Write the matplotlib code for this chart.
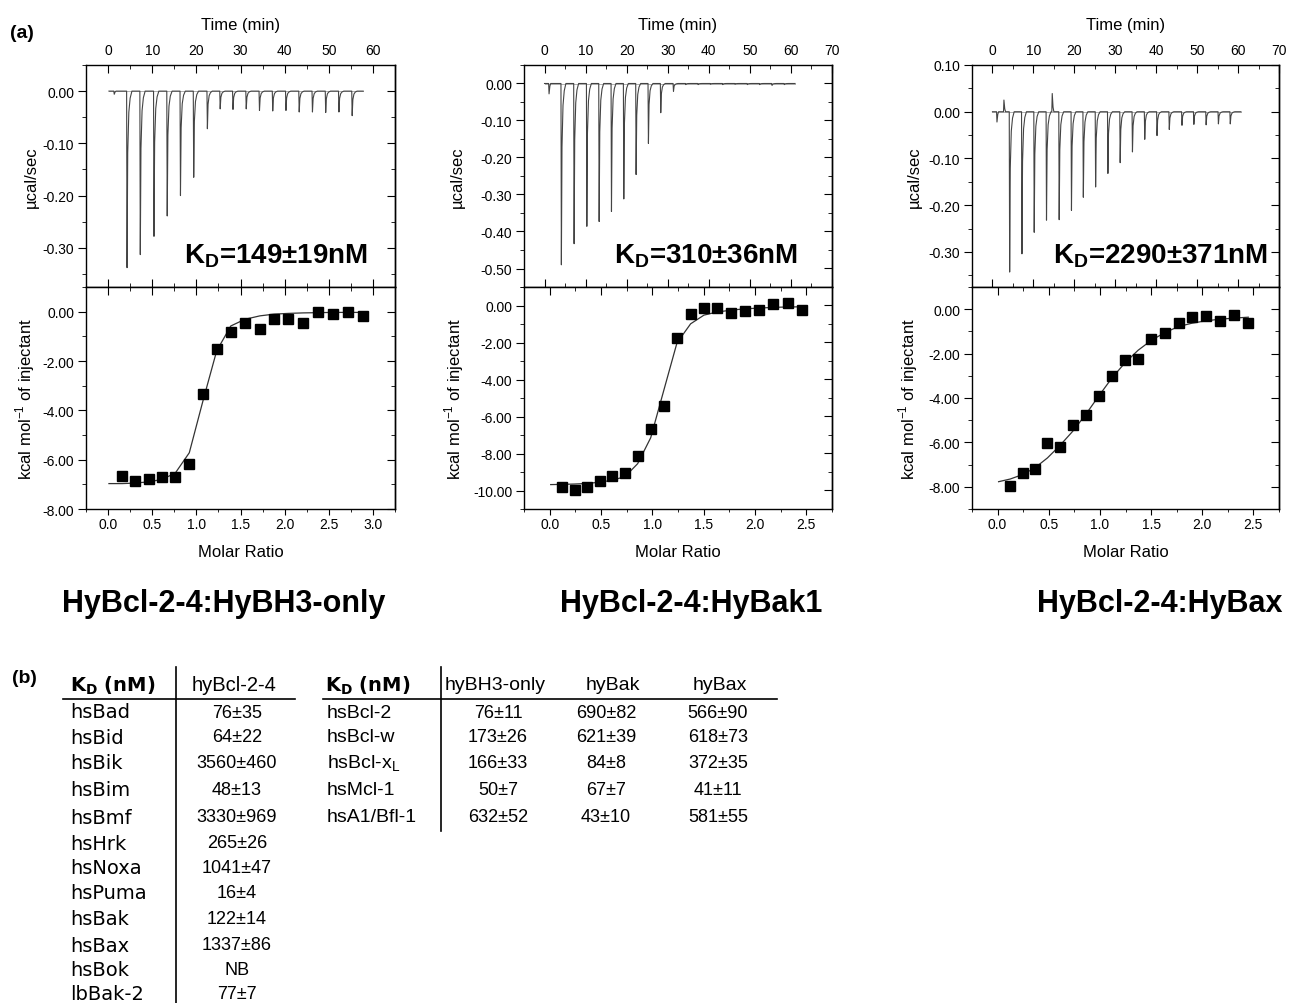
import matplotlib
matplotlib.use('Agg')
import matplotlib.pyplot as plt
from matplotlib.ticker import MultipleLocator, FormatStrFormatter
from matplotlib.lines import Line2D

plt.rcParams['font.family'] = ['Liberation Sans', 'DejaVu Sans']
plt.rcParams['mathtext.fontset'] = 'custom'
plt.rcParams['mathtext.rm'] = 'Liberation Sans'
plt.rcParams['mathtext.bf'] = 'Liberation Sans:bold'
plt.rcParams['mathtext.sf'] = 'DejaVu Sans:bold'
plt.rcParams['axes.unicode_minus'] = False

# ---------------- (a) raw thermograms: injection times (min) and peak heights (ucal/sec)
inj_time_1 = [4.2, 7.2, 10.3, 13.3, 16.3, 19.3, 22.4, 25.3, 28.2, 31.2, 34.2, 37.2,
              40.2, 43.2, 46.2, 49.2, 52.2, 55.2]
inj_peak_1 = [-0.338, -0.313, -0.278, -0.239, -0.200, -0.165, -0.072, -0.034, -0.035,
              -0.034, -0.037, -0.038, -0.037, -0.040, -0.040, -0.041, -0.040, -0.047]
blips_1 = [(1.3, -0.006)]
span_1 = (0.2, 57.8)

inj_time_2 = [4.0, 7.1, 10.2, 13.2, 16.2, 19.2, 22.2, 25.2, 28.2, 31.3, 34.3, 37.3,
              40.3, 43.3, 46.3, 49.3, 52.3, 55.3, 58.3]
inj_peak_2 = [-0.490, -0.433, -0.386, -0.373, -0.346, -0.312, -0.246, -0.162, -0.079,
              -0.021, -0.003, -0.003, -0.002, -0.003, -0.002, -0.003, -0.003, -0.005, -0.003]
blips_2 = [(1.0, -0.028)]
span_2 = (0.0, 61.0)

inj_time_3 = [4.1, 7.1, 10.1, 13.1, 16.2, 19.2, 22.1, 25.1, 28.1, 31.1, 34.1, 37.1,
              40.1, 43.1, 46.2, 49.1, 52.1, 55.1, 58.0]
inj_peak_3 = [-0.343, -0.304, -0.258, -0.232, -0.231, -0.211, -0.183, -0.161, -0.132,
              -0.109, -0.086, -0.059, -0.051, -0.038, -0.029, -0.027, -0.028, -0.026, -0.026]
blips_3 = [(1.0, -0.022), (2.7, 0.025), (14.5, 0.039)]
span_3 = (0.0, 60.7)

# ---------------- (a) integrated heats (kcal/mol of injectant) vs molar ratio
ratio_1 = [0.16, 0.30, 0.46, 0.61, 0.76, 0.92, 1.07, 1.23, 1.39, 1.55, 1.72, 1.88,
           2.04, 2.21, 2.38, 2.55, 2.72, 2.89]
heat_1 = [-6.68, -6.86, -6.77, -6.69, -6.69, -6.19, -3.32, -1.51, -0.81, -0.45, -0.72,
          -0.31, -0.28, -0.45, -0.03, -0.11, -0.01, -0.19]
fit_x_1 = [0.01, 0.16, 0.30, 0.46, 0.61, 0.76, 0.92, 1.07, 1.23, 1.39, 1.55, 1.72,
           1.88, 2.04, 2.21, 2.38, 2.55, 2.72, 2.89]
fit_y_1 = [-6.97, -6.97, -6.95, -6.90, -6.80, -6.55, -5.72, -3.68, -1.59, -0.58, -0.31,
           -0.17, -0.10, -0.07, -0.05, -0.04, -0.03, -0.03, -0.03]

ratio_2 = [0.123, 0.244, 0.364, 0.487, 0.607, 0.734, 0.857, 0.984, 1.114, 1.240, 1.373,
           1.503, 1.633, 1.77, 1.90, 2.04, 2.18, 2.32, 2.455]
heat_2 = [-9.80, -9.95, -9.80, -9.50, -9.21, -9.03, -8.16, -6.65, -5.41, -1.77, -0.47,
          -0.16, -0.14, -0.40, -0.31, -0.27, 0.07, 0.13, -0.27]
fit_x_2 = [0.01, 0.123, 0.244, 0.364, 0.487, 0.607, 0.734, 0.857, 0.984, 1.114, 1.240,
           1.373, 1.503, 1.633, 1.77, 1.90, 2.04, 2.18, 2.32, 2.455]
fit_y_2 = [-9.68, -9.67, -9.65, -9.62, -9.55, -9.45, -9.25, -8.55, -7.15, -4.54, -2.02,
           -0.99, -0.52, -0.35, -0.25, -0.18, -0.14, -0.10, -0.08, -0.07]

ratio_3 = [0.123, 0.244, 0.364, 0.487, 0.607, 0.734, 0.86, 0.987, 1.114, 1.244, 1.373,
           1.503, 1.636, 1.77, 1.90, 2.04, 2.175, 2.315, 2.45]
heat_3 = [-7.97, -7.36, -7.18, -6.01, -6.20, -5.20, -4.77, -3.90, -3.00, -2.27, -2.24,
          -1.33, -1.07, -0.62, -0.35, -0.30, -0.53, -0.24, -0.60]
fit_x_3 = [0.01, 0.123, 0.244, 0.364, 0.487, 0.607, 0.734, 0.86, 0.987, 1.114, 1.244,
           1.373, 1.503, 1.636, 1.77, 1.90, 2.04, 2.175, 2.315, 2.45]
fit_y_3 = [-7.77, -7.65, -7.45, -7.15, -6.70, -6.15, -5.50, -4.75, -3.92, -3.12, -2.42,
           -1.85, -1.40, -1.05, -0.78, -0.63, -0.52, -0.45, -0.40, -0.36]

kd_labels = ['149\u00b119nM', '310\u00b136nM', '2290\u00b1371nM']
titles = ['HyBcl-2-4:HyBH3-only', 'HyBcl-2-4:HyBak1', 'HyBcl-2-4:HyBax']

# ---------------- (b) tables
t1_rows = ['hsBad', 'hsBid', 'hsBik', 'hsBim', 'hsBmf', 'hsHrk', 'hsNoxa', 'hsPuma',
           'hsBak', 'hsBax', 'hsBok', 'lbBak-2']
t1_vals = ['76\u00b135', '64\u00b122', '3560\u00b1460', '48\u00b113', '3330\u00b1969',
           '265\u00b126', '1041\u00b147', '16\u00b14', '122\u00b114', '1337\u00b186', 'NB', '77\u00b17']

t2_cols = ['hyBH3-only', 'hyBak', 'hyBax']
t2_rows = ['hsBcl-2', 'hsBcl-w', 'hsBcl-x$_\\mathrm{L}$', 'hsMcl-1', 'hsA1/Bfl-1']
t2_bh3 = ['76\u00b111', '173\u00b126', '166\u00b133', '50\u00b17', '632\u00b152']
t2_bak = ['690\u00b182', '621\u00b139', '84\u00b18', '67\u00b17', '43\u00b110']
t2_bax = ['566\u00b190', '618\u00b173', '372\u00b135', '41\u00b111', '581\u00b155']

W, H = 1293, 1004
fig = plt.figure(figsize=(W / 100, H / 100), dpi=100)


def fx(x):
    return x / W


def fy(y):
    return 1 - y / H


# spike shape used to draw each injection peak
spike_dt = [0.0, 0.1, 0.25, 0.5, 0.8, 1.2]
spike_f = [0.0, 1.0, 0.35, 0.12, 0.04, 0.0]
blip_dt = [0.0, 0.1, 0.3, 0.5]
blip_f = [0.0, 1.0, 0.25, 0.0]


def build_trace(times, peaks, blips, span):
    events = [(t, h, spike_dt, spike_f) for t, h in zip(times, peaks)]
    events += [(t, h, blip_dt, blip_f) for t, h in blips]
    events.sort(key=lambda e: e[0])
    xs, ys = [span[0]], [0.0]
    for t, h, dts, fs in events:
        for d, f in zip(dts, fs):
            xs.append(t + d)
            ys.append(h * f)
    xs.append(span[1])
    ys.append(0.0)
    return xs, ys


def style_ticks(ax):
    ax.tick_params(axis='both', which='major', labelsize=10)
    ax.tick_params(axis='y', which='major', direction='out', length=6, pad=2.5)
    ax.tick_params(axis='y', which='minor', direction='out', length=3)
    sec = ax.secondary_yaxis('right')
    sec.yaxis.set_major_locator(ax.yaxis.get_major_locator())
    sec.yaxis.set_minor_locator(ax.yaxis.get_minor_locator())
    sec.tick_params(axis='y', which='major', direction='in', length=6, labelright=False)
    sec.tick_params(axis='y', which='minor', direction='in', length=3)
    for s in ax.spines.values():
        s.set_linewidth(1.0)
    sec.spines['right'].set_linewidth(1.0)


lefts = [86, 524, 972]
rights = [395, 832, 1279]
top_ys = [(-0.375, 0.05), (-0.55, 0.05), (-0.375, 0.10)]
bot_ys = [(-8, 1), (-11, 1), (-9, 1)]
bot_xs = [(-0.25, 3.25), (-0.25, 2.75), (-0.25, 2.75)]
top_xs = [(-5, 65), (-5, 70), (-5, 70)]
ylab_top = [-0.152, -0.192, -0.163]
ylab_bot = [-0.160, -0.188, -0.169]
kd_pos = [(0.913, 0.113), (0.89, 0.113), (0.964, 0.113)]
title_x = [224, 691, 1160]

raw = [(inj_time_1, inj_peak_1, blips_1, span_1),
       (inj_time_2, inj_peak_2, blips_2, span_2),
       (inj_time_3, inj_peak_3, blips_3, span_3)]
iso = [(ratio_1, heat_1, fit_x_1, fit_y_1),
       (ratio_2, heat_2, fit_x_2, fit_y_2),
       (ratio_3, heat_3, fit_x_3, fit_y_3)]

for i in range(3):
    l, r = lefts[i], rights[i]
    axt = fig.add_axes([fx(l), fy(288), (r - l) / W, 222 / H])
    axb = fig.add_axes([fx(l), fy(510), (r - l) / W, 222 / H])

    # raw heat trace
    tx, ty = build_trace(*raw[i])
    span = raw[i][3]
    axt.plot([span[0], span[1]], [0, 0], color='#b0b0b0', lw=0.7)
    axt.plot(tx, ty, color='#444444', lw=0.8)
    axt.set_xlim(*top_xs[i])
    axt.set_ylim(*top_ys[i])
    axt.xaxis.set_major_locator(MultipleLocator(10))
    axt.xaxis.set_minor_locator(MultipleLocator(5))
    axt.yaxis.set_major_locator(MultipleLocator(0.1))
    axt.yaxis.set_minor_locator(MultipleLocator(0.05))
    axt.yaxis.set_major_formatter(FormatStrFormatter('%.2f'))
    style_ticks(axt)
    axt.tick_params(axis='x', which='both', direction='in', top=True, bottom=True,
                    labeltop=True, labelbottom=False)
    axt.tick_params(axis='x', which='major', length=6, pad=6)
    axt.tick_params(axis='x', which='minor', length=3)
    axt.xaxis.set_label_position('top')
    axt.set_xlabel('Time (min)', fontsize=12, labelpad=10)
    axt.set_ylabel('\u00b5cal/sec', fontsize=12)
    axt.yaxis.set_label_coords(ylab_top[i], 0.5)
    axt.text(kd_pos[i][0], kd_pos[i][1], '$\\mathbf{K}_{\\mathbf{D}}$=' + kd_labels[i],
             transform=axt.transAxes, ha='right', va='baseline', fontsize=20,
             fontweight='bold')

    # integrated heats + fit
    x, y, fxs, fys = iso[i]
    axb.plot(fxs, fys, color='#333333', lw=0.9)
    axb.plot(x, y, 's', color='black', ms=6.5)
    axb.set_xlim(*bot_xs[i])
    axb.set_ylim(*bot_ys[i])
    axb.xaxis.set_major_locator(MultipleLocator(0.5))
    axb.xaxis.set_minor_locator(MultipleLocator(0.25))
    axb.xaxis.set_major_formatter(FormatStrFormatter('%.1f'))
    axb.yaxis.set_major_locator(MultipleLocator(2))
    axb.yaxis.set_minor_locator(MultipleLocator(1))
    axb.yaxis.set_major_formatter(FormatStrFormatter('%.2f'))
    style_ticks(axb)
    axb.tick_params(axis='x', which='major', direction='out', length=4, pad=2)
    axb.tick_params(axis='x', which='minor', direction='out', length=2.5)
    secx = axb.secondary_xaxis('top')
    secx.xaxis.set_major_locator(MultipleLocator(0.5))
    secx.xaxis.set_minor_locator(MultipleLocator(0.25))
    secx.tick_params(axis='x', which='major', direction='in', length=6, labeltop=False)
    secx.tick_params(axis='x', which='minor', direction='in', length=3)
    axb.set_xlabel('Molar Ratio', fontsize=12, labelpad=9)
    axb.set_ylabel('kcal mol$^{\\mathrm{-1}}$ of injectant', fontsize=12)
    axb.yaxis.set_label_coords(ylab_bot[i], 0.5)

    fig.text(fx(title_x[i]), fy(612), titles[i], ha='center', va='baseline',
             fontsize=22, fontweight='bold')

fig.text(fx(10), fy(34), '(a)', ha='left', va='center', fontsize=14, fontweight='bold')
fig.text(fx(12), fy(679), '(b)', ha='left', va='center', fontsize=14, fontweight='bold')

# ---------------- table 1
hdr_y = 686
fig.text(fx(70), fy(hdr_y), '$\\mathsf{K}_{\\mathsf{D}}$ (nM)', ha='left', va='center',
         fontsize=14, fontweight='bold', family='DejaVu Sans')
fig.text(fx(234), fy(hdr_y), 'hyBcl-2-4', ha='center', va='center', fontsize=14.5)
fig.add_artist(Line2D([fx(63), fx(295)], [fy(700), fy(700)], color='black', lw=1.2))
fig.add_artist(Line2D([fx(176), fx(176)], [fy(668), fy(1004)], color='black', lw=1.2))
row_y1 = [713, 738, 764, 791, 818, 844, 869, 894, 920, 946, 971, 995]
for name, val, yy in zip(t1_rows, t1_vals, row_y1):
    fig.text(fx(70), fy(yy), name, ha='left', va='center', fontsize=14, family='DejaVu Sans')
    fig.text(fx(237), fy(yy), val, ha='center', va='center', fontsize=13)

# ---------------- table 2
fig.text(fx(325), fy(hdr_y), '$\\mathsf{K}_{\\mathsf{D}}$ (nM)', ha='left', va='center',
         fontsize=14, fontweight='bold', family='DejaVu Sans')
for name, cx in zip(t2_cols, [495, 613, 720]):
    fig.text(fx(cx), fy(hdr_y), name, ha='center', va='center', fontsize=14)
fig.add_artist(Line2D([fx(323), fx(777)], [fy(700), fy(700)], color='black', lw=1.2))
fig.add_artist(Line2D([fx(441), fx(441)], [fy(668), fy(832)], color='black', lw=1.2))
row_y2 = [713, 738, 764, 791, 817]
for k, (name, yy) in enumerate(zip(t2_rows, row_y2)):
    fig.text(fx(327), fy(yy), name, ha='left', va='center', fontsize=14)
    for col, cx in zip([t2_bh3, t2_bak, t2_bax], [498, 606, 718]):
        fig.text(fx(cx), fy(yy), col[k], ha='center', va='center', fontsize=13)

fig.savefig('out.png', dpi=100)
